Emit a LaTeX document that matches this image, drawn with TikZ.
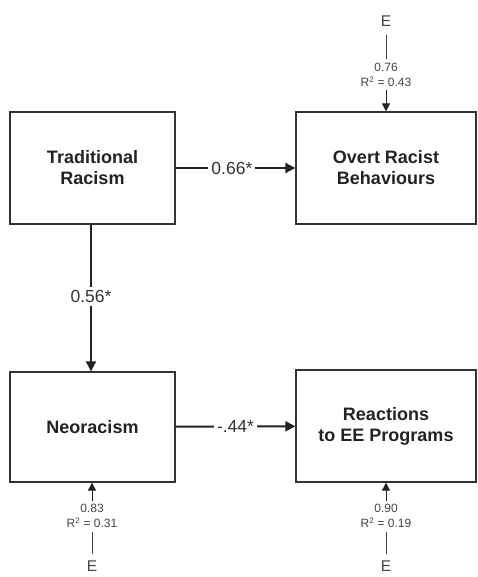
\documentclass[tikz,border=0pt]{standalone}
\usepackage{fontspec}
\setmainfont{Liberation Sans}
\usetikzlibrary{arrows.meta}
\definecolor{ink}{HTML}{222222}
\definecolor{lineink}{HTML}{333333}
\definecolor{smallink}{HTML}{444444}
\tikzset{
  box/.style={draw=lineink, line width=1.3pt, inner sep=0pt, align=center,
    font=\fontsize{18}{21}\selectfont\bfseries, text=ink},
  arr/.style={draw=ink, line width=2pt, -{Triangle[length=10pt,width=10pt]}},
  lab/.style={fill=white, inner sep=3pt, font=\fontsize{17.5}{20}\selectfont, text=lineink},
  enode/.style={font=\fontsize{15.5}{18}\selectfont, text=smallink, inner sep=2pt},
  small/.style={align=center, font=\fontsize{12}{15}\selectfont, text=smallink, inner sep=3pt},
  thinln/.style={draw=smallink, line width=1pt},
  smallarr/.style={draw=ink, line width=1pt, -{Triangle[length=8pt,width=8pt]}}
}
\begin{document}
\begin{tikzpicture}[x=1pt,y=-1pt]
\useasboundingbox (0,0) rectangle (477,577);
% boxes
\node[box, minimum width=165pt, minimum height=112pt] (tr) at (92.5,168) {Traditional\\Racism};
\node[box, minimum width=180pt, minimum height=112pt] (orb) at (386,168) {Overt Racist\\Behaviours};
\node[box, minimum width=165pt, minimum height=110pt] (neo) at (92.5,427) {Neoracism};
\node[box, minimum width=180pt, minimum height=112pt] (rea) at (386,426) {Reactions\\to EE Programs};
% paths
\draw[arr] (tr) -- node[lab, pos=0.47] {0.66*} (orb);
\draw[arr] (tr.south -| 91,0) -- node[lab, pos=0.49] {0.56*} (neo.north -| 91,0);
\draw[arr] (neo) -- node[lab, pos=0.5] {-.44*} (rea);
% error terms top
\node[enode] (e1) at (386,21) {E};
\node[small] (r1) at (386,75) {0.76\\R\textsuperscript{2} = 0.43};
\draw[thinln, shorten <=6pt, shorten >=1pt] (e1) -- (r1);
\draw[smallarr] (r1) -- (orb);
% error terms bottom left
\node[enode] (e2) at (92,566) {E};
\node[small] (r2) at (92,516) {0.83\\R\textsuperscript{2} = 0.31};
\draw[thinln, shorten <=4pt, shorten >=1pt] (e2) -- (r2);
\draw[smallarr] (r2) -- (neo.south -| 92,0);
% error terms bottom right
\node[enode] (e3) at (386,566) {E};
\node[small] (r3) at (386,516) {0.90\\R\textsuperscript{2} = 0.19};
\draw[thinln, shorten <=4pt, shorten >=1pt] (e3) -- (r3);
\draw[smallarr] (r3) -- (rea);
\end{tikzpicture}
\end{document}
